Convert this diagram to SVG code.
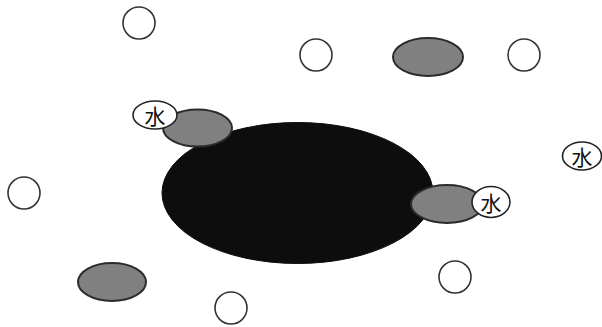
<svg xmlns="http://www.w3.org/2000/svg" width="602" height="327" viewBox="0 0 602 327">
  <style>
    .bg { fill: #ffffff; }
    .small { fill: #ffffff; stroke: #333333; stroke-width: 1.6; }
    .solute { fill: #808080; stroke: #2b2b2b; stroke-width: 2; }
    .core { fill: #0d0d0d; stroke: #0d0d0d; stroke-width: 1; }
    .tag { fill: #ffffff; stroke: #222222; stroke-width: 1.6; }
    .lbl { font-family: "Noto Sans CJK JP", "Noto Sans CJK SC", sans-serif; font-size: 21px; fill: #111111; text-anchor: middle; dominant-baseline: central; }
  </style>
  <rect class="bg" x="0" y="0" width="602" height="327"/>

  <!-- free particles -->
  <g id="p1"><circle class="small" cx="139" cy="23" r="16"/></g>
  <g id="p2"><circle class="small" cx="316" cy="55" r="16"/></g>
  <g id="p3"><circle class="small" cx="524" cy="55" r="16"/></g>
  <g id="p4"><circle class="small" cx="24" cy="193" r="16"/></g>
  <g id="p5"><circle class="small" cx="455" cy="277" r="16"/></g>
  <g id="p6"><circle class="small" cx="231" cy="308" r="16"/></g>

  <!-- free solute molecules -->
  <g id="s1"><ellipse class="solute" cx="428" cy="57" rx="35" ry="19"/></g>
  <g id="s2"><ellipse class="solute" cx="112" cy="282" rx="34" ry="19"/></g>

  <!-- large central body -->
  <g id="core"><ellipse class="core" cx="297.5" cy="193" rx="135.5" ry="70.5"/></g>

  <!-- attached solute molecules with water tags -->
  <g id="s3">
    <ellipse class="solute" cx="197.5" cy="128" rx="34.5" ry="18.5"/>
    <ellipse class="tag" cx="155" cy="115" rx="22" ry="14"/>
    <text class="lbl" x="155" y="115">水</text>
  </g>
  <g id="s4">
    <ellipse class="solute" cx="447" cy="204" rx="36" ry="19"/>
    <ellipse class="tag" cx="491" cy="202" rx="19" ry="15.5"/>
    <text class="lbl" x="491" y="202">水</text>
  </g>

  <!-- free water tag -->
  <g id="w1">
    <ellipse class="tag" cx="582" cy="156" rx="19.5" ry="14"/>
    <text class="lbl" x="582" y="156">水</text>
  </g>
</svg>
